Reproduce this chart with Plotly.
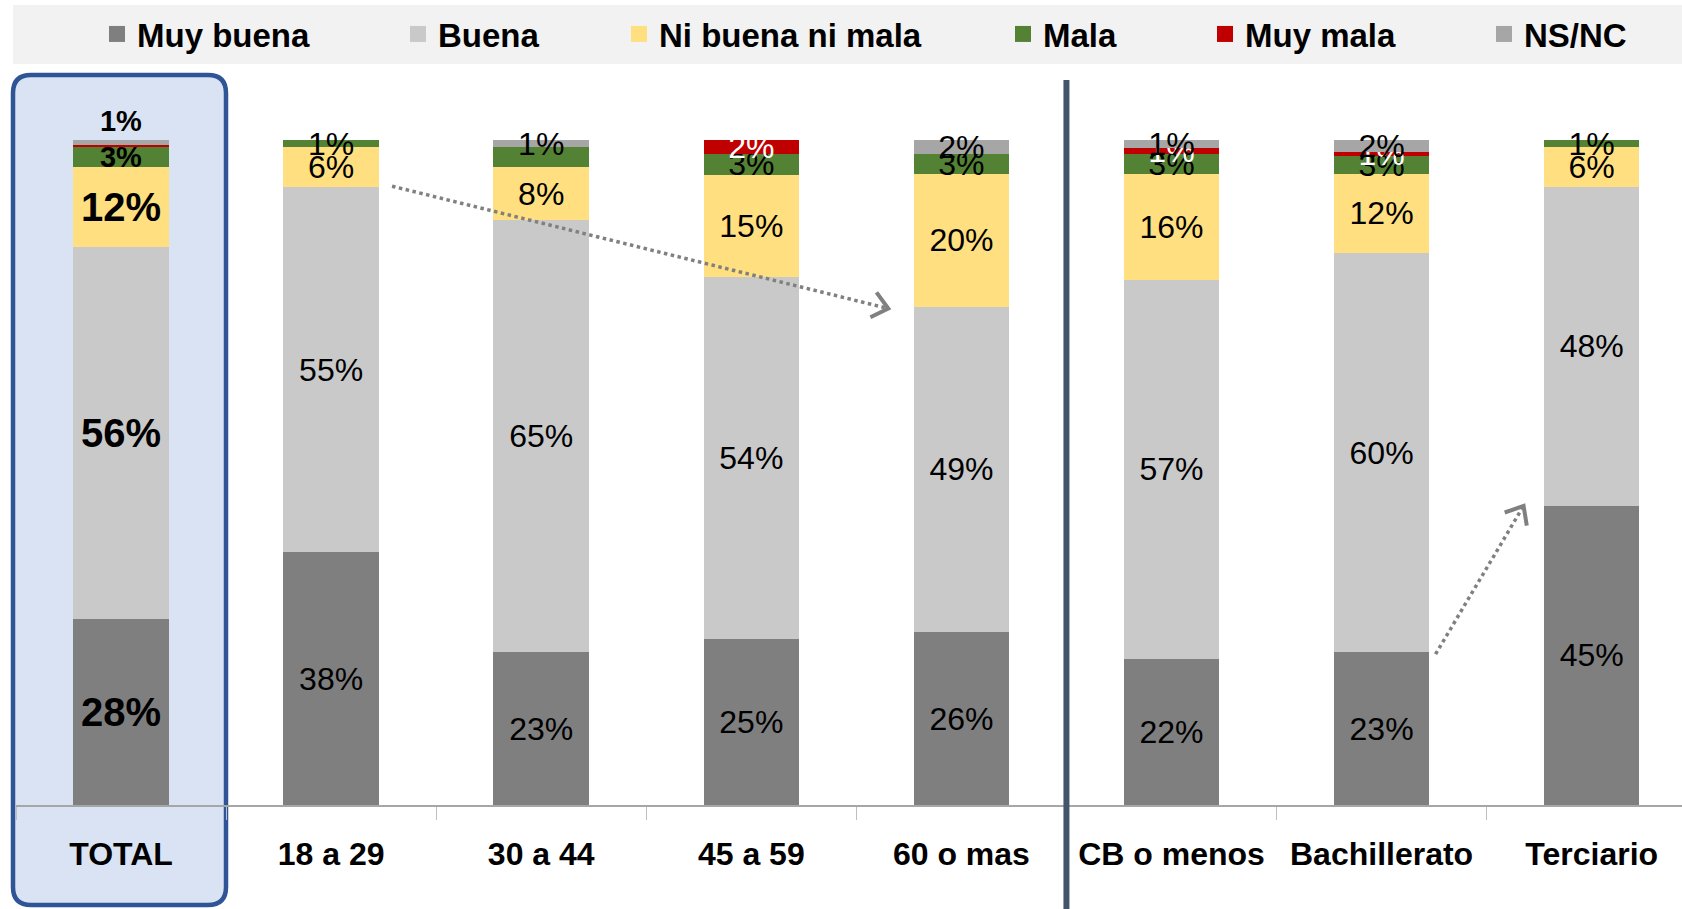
import math
import plotly.graph_objects as go

# categorías y valores (%)
categories = ["TOTAL", "18 a 29", "30 a 44", "45 a 59", "60 o mas",
              "CB o menos", "Bachillerato", "Terciario"]
muy_buena = [28, 38, 23, 25, 26, 22, 23, 45]
buena = [56, 55, 65, 54.4, 49, 57, 60, 48]
ni_buena_ni_mala = [12, 6, 8, 15.4, 20, 16, 12, 6]
mala = [3, 1, 3, 3.2, 3, 3, 2.6, 1]
muy_mala = [0.3, 0, 0, 2, 0, 0.8, 0.6, 0]
ns_nc = [0.7, 0, 1, 0, 2, 1.2, 1.8, 0]

series = [
    ("Muy buena", muy_buena, "#7f7f7f", "black"),
    ("Buena", buena, "#c9c9c9", "black"),
    ("Ni buena ni mala", ni_buena_ni_mala, "#ffdf80", "black"),
    ("Mala", mala, "#548235", "black"),
    ("Muy mala", muy_mala, "#c00000", "white"),
    ("NS/NC", ns_nc, "#a6a6a6", "black"),
]
hidden = {("Mala", "30 a 44")}  # etiqueta tapada en el original

FONT = "Liberation Sans, Arial, sans-serif"
W, H = 1682, 909
ML, MR, MT, MB = 16, 0, 140, 104
PW, PH = W - ML - MR, H - MT - MB

fig = go.Figure()
legend_px = [97, 398, 619, 1003, 1205, 1484]

for i, (name, vals, color, tcolor) in enumerate(series):
    texts, sizes, positions = [], [], []
    for cat, v in zip(categories, vals):
        pct = int(v + 0.5)
        if pct < 1 or (name, cat) in hidden:
            texts.append("")
        elif cat == "TOTAL":
            texts.append(f"<b>{pct}%</b>")
        else:
            texts.append(f"{pct}%")
        if cat == "TOTAL":
            sizes.append(40 if v >= 10 else 29)
        else:
            sizes.append(32)
        # en el TOTAL la etiqueta NS/NC queda encima de la barra
        positions.append("outside" if (cat == "TOTAL" and name == "NS/NC") else "inside")
    fig.add_trace(go.Bar(
        x=categories, y=vals, name=name, marker_color=color,
        marker_line_width=0, text=texts, textposition=positions,
        insidetextanchor="middle", textangle=0, constraintext="none",
        textfont=dict(family=FONT, size=sizes, color=tcolor),
        cliponaxis=False, showlegend=False, hoverinfo="skip",
    ))
    lg = "legend" if i == 0 else f"legend{i + 1}"
    fig.add_trace(go.Scatter(
        x=[None], y=[None], mode="markers", name=name, legend=lg,
        marker=dict(symbol="square", size=16, color=color),
    ))
    fig.update_layout({lg: dict(
        x=(legend_px[i] - ML) / PW, xanchor="left",
        y=(MT + PH - 34) / PH, yanchor="middle",
        bgcolor="rgba(0,0,0,0)", orientation="h",
        font=dict(family=FONT, size=33, color="black", weight="bold"),
        itemclick=False, itemdoubleclick=False,
    )})

shapes = []
# fondo de la leyenda
shapes.append(dict(type="rect", xref="paper", yref="paper",
                   x0=-3 / PW, x1=1, y0=(PH + MT - 64) / PH, y1=(PH + MT - 5) / PH,
                   fillcolor="#f2f2f2", line_width=0, layer="below"))
# recuadro del TOTAL (esquinas redondeadas, en píxeles)
r = 18
x0, x1, y0, y1 = -3, 210, -100, 730
box = (f"M{x0 + r},{y0} L{x1 - r},{y0} Q{x1},{y0} {x1},{y0 + r} "
       f"L{x1},{y1 - r} Q{x1},{y1} {x1 - r},{y1} L{x0 + r},{y1} "
       f"Q{x0},{y1} {x0},{y1 - r} L{x0},{y0 + r} Q{x0},{y0} {x0 + r},{y0} Z")
shapes.append(dict(type="path", xref="paper", yref="paper",
                   xsizemode="pixel", ysizemode="pixel", xanchor=0, yanchor=0,
                   path=box, fillcolor="#dae3f3",
                   line=dict(color="#2f5597", width=4.5), layer="below"))
# separador edad / educación
shapes.append(dict(type="line", xref="x", yref="paper", x0=4.5, x1=4.5,
                   y0=(PH + MT - 80) / PH, y1=-0.2,
                   line=dict(color="#44546a", width=6)))

# flechas punteadas
arrows = [((1.29, 93.1), (3.652, 74.7), (496, -122)),
          ((6.257, 22.7), (6.676, 45.0), (88, 148))]
for (sx, sy), (ex, ey), (dx, dy) in arrows:
    shapes.append(dict(type="line", xref="x", yref="y", x0=sx, y0=sy, x1=ex, y1=ey,
                       line=dict(color="#808080", width=3.5, dash="dot")))
    n = math.hypot(dx, dy)
    ux, uy = dx / n, dy / n
    arm = 20
    pts = []
    for a in (math.radians(40), -math.radians(40)):
        bx = -(ux * math.cos(a) - uy * math.sin(a)) * arm
        by = -(ux * math.sin(a) + uy * math.cos(a)) * arm
        pts.append((bx, by))
    path = f"M{pts[0][0]:.1f},{pts[0][1]:.1f} L0,0 L{pts[1][0]:.1f},{pts[1][1]:.1f}"
    shapes.append(dict(type="path", xref="x", yref="y", xsizemode="pixel",
                       ysizemode="pixel", xanchor=ex, yanchor=ey, path=path,
                       line=dict(color="#808080", width=4)))

fig.update_layout(
    barmode="stack", bargap=0.545,
    width=W, height=H,
    margin=dict(l=ML, r=MR, t=MT, b=MB),
    plot_bgcolor="rgba(0,0,0,0)", paper_bgcolor="white",
    shapes=shapes,
    xaxis=dict(range=[-0.5, 7.43], showline=True, linecolor="#a6a6a6", linewidth=2,
               ticks="outside", tickson="boundaries", ticklen=13, tickcolor="#bfbfbf",
               tickwidth=1, showgrid=False, ticklabelstandoff=20,
               tickfont=dict(family=FONT, size=32, color="black", weight="bold")),
    yaxis=dict(range=[0, 100.05], visible=False, showgrid=False),
)

fig.write_html("out.html", config={"displayModeBar": False},
               post_script="document.body.style.margin='0px';")
